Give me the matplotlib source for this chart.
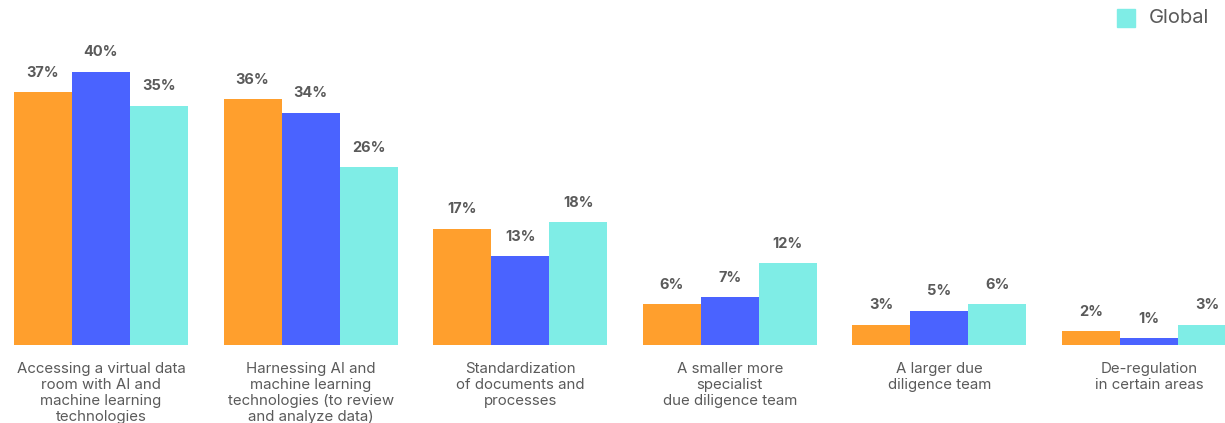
import numpy as np
import matplotlib.pyplot as plt

plt.rcParams['font.family'] = ['Inter', 'DejaVu Sans']

categories = [
    "Accessing a virtual data\nroom with AI and\nmachine learning\ntechnologies",
    "Harnessing AI and\nmachine learning\ntechnologies (to review\nand analyze data)",
    "Standardization\nof documents and\nprocesses",
    "A smaller more\nspecialist\ndue diligence team",
    "A larger due\ndiligence team",
    "De-regulation\nin certain areas",
]
series_a = [37, 36, 17, 6, 3, 2]
series_b = [40, 34, 13, 7, 5, 1]
global_vals = [35, 26, 18, 12, 6, 3]

colors = ["#FF9F2D", "#4A63FF", "#7FEDE6"]
text_col = "#5a5a5a"

fig = plt.figure(figsize=(12.25, 4.23), dpi=100)
# axes span full width; baseline sits 78 px above the bottom edge
ax = fig.add_axes([0, 78 / 423, 1, 345 / 423])

x = np.arange(len(categories))
w = 0.2767
for k, (vals, c) in enumerate(zip([series_a, series_b, global_vals], colors)):
    pos = x + (k - 1) * w
    ax.bar(pos, vals, width=w, color=c, linewidth=0, label="Global" if k == 2 else None)
    for p, v in zip(pos, vals):
        ax.annotate(f"{v}%", (p, v), xytext=(0, 9), textcoords="offset points",
                    ha="center", va="bottom", fontsize=10.5, fontweight="bold",
                    color=text_col)

for xi, lab in zip(x, categories):
    ax.annotate(lab, (xi, 0), xytext=(0, -12.5), textcoords="offset points",
                ha="center", va="top", fontsize=10.8, color=text_col,
                linespacing=1.17, annotation_clip=False)

ax.set_xlim(-101 / 209.6, (1225 - 101) / 209.6)
ax.set_ylim(0, 345 / 6.83)
ax.axis("off")

# legend entry in the top-right corner
fig.patches.append(plt.Rectangle((1117 / 1225, (423 - 27) / 423), 18 / 1225, 18 / 423,
                                 transform=fig.transFigure, color=colors[2]))
fig.text(1149 / 1225, (423 - 18) / 423, "Global", fontsize=14.5, color=text_col,
         ha="left", va="center")

fig.savefig("out.png", dpi=100)
